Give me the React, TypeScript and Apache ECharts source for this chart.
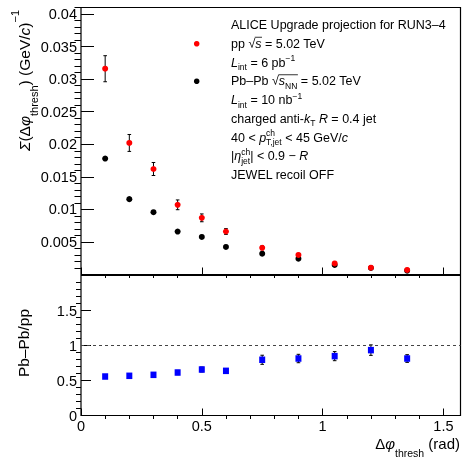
import { useEffect, useRef } from "react";
import * as echarts from "echarts";

// ---- data ----
const xValues = [0.1, 0.2, 0.3, 0.4, 0.5, 0.6, 0.75, 0.9, 1.05, 1.2, 1.35];
const ppValues = [0.0316, 0.0202, 0.0162, 0.0107, 0.0087, 0.0066, 0.0041, 0.003, 0.0017, 0.00105, 0.0007];
const ppErrors = [0.002, 0.0013, 0.001, 0.00075, 0.0006, 0.00045, 0.0003, 0.00022, 0.00015, 0.0001, 0.00008];
const pbpbValues = [0.0178, 0.01157, 0.00957, 0.00659, 0.00577, 0.00423, 0.0032, 0.00243, 0.00146, 0.001, 0.00058];
const pbpbErrors = [0.0002, 0.00015, 0.00012, 0.0001, 0.0001, 0.00008, 0.00006, 0.00005, 0.00004, 0.00003, 0.00002];
const ratioValues = [0.557, 0.567, 0.581, 0.614, 0.657, 0.638, 0.796, 0.814, 0.848, 0.934, 0.814];
const ratioErrors = [0.025, 0.025, 0.025, 0.03, 0.035, 0.03, 0.065, 0.06, 0.065, 0.075, 0.055];

// ---- axis ticks ----
const X_MAX = Math.PI / 2;
const TOP_Y_MAX = 0.041;
const RATIO_Y_MAX = 2;
const xMajorTicks = [0, 0.5, 1, 1.5];
const xLabels = [0, 0.5, 1, 1.5];
const xMinorTicks = [0.1, 0.2, 0.3, 0.4, 0.6, 0.7, 0.8, 0.9, 1.1, 1.2, 1.3, 1.4];
const topYMajorTicks = [0, 0.005, 0.01, 0.015, 0.02, 0.025, 0.03, 0.035, 0.04];
const topYLabels = [0.005, 0.01, 0.015, 0.02, 0.025, 0.03, 0.035, 0.04];
const topYMinorTicks: number[] = [];
for (let i = 1; i <= 41; i++) if (i % 5 !== 0) topYMinorTicks.push(i / 1000);
const ratioYMajorTicks = [0, 0.5, 1, 1.5, 2];
const ratioYLabels = [0, 0.5, 1, 1.5];
const ratioYMinorTicks: number[] = [];
for (let i = 1; i < 20; i++) if (i % 5 !== 0) ratioYMinorTicks.push(i / 10);

const FONT = "'Liberation Sans', Arial, Helvetica, sans-serif";

function measure(text: string, font: string): number {
  const c = document.createElement("canvas").getContext("2d")!;
  c.font = font;
  return c.measureText(text).width;
}

function errorBars(xi: number, yi: number, vals: number[], errs: number[], color: string) {
  return {
    type: "custom",
    xAxisIndex: xi,
    yAxisIndex: yi,
    silent: true,
    z: 2,
    encode: { x: 0, y: [1, 2] },
    data: xValues.map((x, i) => [x, vals[i] - errs[i], vals[i] + errs[i]]),
    renderItem: (_p: any, api: any) => {
      const x = api.value(0);
      const lo = api.coord([x, api.value(1)]);
      const hi = api.coord([x, api.value(2)]);
      const hw = 1.8;
      const st = { stroke: color, lineWidth: 1 };
      return {
        type: "group",
        children: [
          { type: "line", shape: { x1: lo[0], y1: lo[1], x2: hi[0], y2: hi[1] }, style: st },
          { type: "line", shape: { x1: lo[0] - hw, y1: lo[1], x2: lo[0] + hw, y2: lo[1] }, style: st },
          { type: "line", shape: { x1: hi[0] - hw, y1: hi[1], x2: hi[0] + hw, y2: hi[1] }, style: st },
        ],
      };
    },
  };
}

function valueAxis(gridIndex: number, min: number, max: number, ticks: number[], labels: number[] | null, len: number, margin = 4) {
  return {
    type: "value",
    gridIndex,
    min,
    max,
    axisLine: { show: false },
    splitLine: { show: false },
    axisTick: { show: true, inside: true, length: len, customValues: ticks, lineStyle: { color: "#000", width: 1 } },
    axisLabel: labels
      ? {
          show: true,
          customValues: labels,
          color: "#000",
          fontFamily: FONT,
          fontSize: 14.5,
          margin,
        }
      : { show: false },
  };
}

export default function App() {
  const ref = useRef<HTMLDivElement>(null);
  useEffect(() => {
    document.body.style.margin = "0";
    const chart = echarts.init(ref.current!, null, { renderer: "svg" });

    const legFs = 12.5;
    const subFs = 8.5;
    const legRich = {
      n: { fontSize: legFs, fontFamily: FONT, fill: "#000", color: "#000", lineHeight: 18 },
      i: { fontSize: legFs, fontFamily: FONT, fontStyle: "italic", fill: "#000", color: "#000", lineHeight: 18 },
      sub: { fontSize: subFs, fontFamily: FONT, fill: "#000", color: "#000", lineHeight: 10, verticalAlign: "bottom" },
      sup: { fontSize: subFs, fontFamily: FONT, fill: "#000", color: "#000", lineHeight: 9, verticalAlign: "top" },
      supz: { fontSize: subFs, fontFamily: FONT, fill: "#000", color: "#000", lineHeight: 10, verticalAlign: "top", width: 0.01 },
    };
    const legX = 231;
    const legLines = [
      "{n|ALICE Upgrade projection for RUN3–4}",
      "{n|pp √}{i|s}{n| = 5.02 TeV}",
      "{i|L}{sub|int}{n| = 6 pb}{sup|−1}",
      "{n|Pb–Pb √}{i|s}{sub|NN}{n| = 5.02 TeV}",
      "{i|L}{sub|int}{n| = 10 nb}{sup|−1}",
      "{n|charged anti-}{i|k}{sub|T}{n| }{i|R}{n| = 0.4 jet}",
      "{n|40 < }{i|p}{supz|ch}{sub|T,jet}{n| < 45 GeV/}{i|c}",
      "{n||}{i|η}{supz|ch}{sub|jet}{n|| < 0.9 − }{i|R}",
      "{n|JEWEL recoil OFF}",
    ];
    const legY = (k: number) => 25 + 18.75 * k;
    const nFont = `${legFs}px ${FONT}`;
    const iFont = `italic ${legFs}px ${FONT}`;
    const sFont = `${subFs}px ${FONT}`;
    const ov1x = legX + measure("pp √", nFont);
    const ov1w = measure("s", iFont);
    const ov2x = legX + measure("Pb–Pb √", nFont);
    const ov2w = measure("s", iFont) + measure("NN", sFont);

    const graphics: any[] = legLines.map((t, k) => ({
      type: "text",
      x: legX,
      y: legY(k),
      silent: true,
      style: { text: t, rich: legRich, textAlign: "left", textVerticalAlign: "middle", verticalAlign: "middle" },
    }));
    graphics.push(
      { type: "line", silent: true, shape: { x1: ov1x - 0.5, y1: legY(1) - 6.5, x2: ov1x + ov1w + 0.5, y2: legY(1) - 6.5 }, style: { stroke: "#000", lineWidth: 0.8 } },
      { type: "line", silent: true, shape: { x1: ov2x - 0.5, y1: legY(3) - 6.5, x2: ov2x + ov2w + 0.5, y2: legY(3) - 6.5 }, style: { stroke: "#000", lineWidth: 0.8 } },
      { type: "circle", silent: true, shape: { cx: 196.7, cy: legY(1), r: 2.8 }, style: { fill: "#ff0000" } },
      { type: "circle", silent: true, shape: { cx: 196.7, cy: legY(3), r: 2.8 }, style: { fill: "#000" } }
    );

    const tFs = 15.5;
    const tSub = 11;
    const mkTitleRich = (lh: number, fs = tFs) => ({
      n: { fontSize: fs, fontFamily: FONT, fill: "#000", color: "#000", lineHeight: lh },
      i: { fontSize: fs, fontFamily: FONT, fontStyle: "italic", fill: "#000", color: "#000", lineHeight: lh },
      sub: { fontSize: tSub, fontFamily: FONT, fill: "#000", color: "#000", lineHeight: 12, verticalAlign: "bottom" },
      sup: { fontSize: tSub, fontFamily: FONT, fill: "#000", color: "#000", lineHeight: 12, verticalAlign: "top" },
    });

    // x-axis title built from pieces, right-aligned at the frame's right edge
    const xFs = 15;
    const xSub = 10.5;
    const xtRight = 460;
    const xtY = 443;
    const wRad = measure(" (rad)", `${xFs}px ${FONT}`);
    const wThresh = measure("thresh", `${xSub}px ${FONT}`);
    const xtPiece = (text: string, x: number, y: number, rich: string) => ({
      type: "text",
      x,
      y,
      silent: true,
      style: {
        text: `{${rich}|${text}}`,
        rich: mkTitleRich(xFs, xFs),
        textAlign: "right",
        textVerticalAlign: "middle",
        verticalAlign: "middle",
      },
    });

    graphics.push(
      {
        type: "text",
        x: 24,
        y: 10,
        rotation: Math.PI / 2,
        silent: true,
        style: {
          text: "{i|Σ}{n|(Δ}{i|φ}{sub|thresh}{n|) (GeV/}{i|c}{n|)}{sup|−1}",
          rich: mkTitleRich(30),
          textAlign: "right",
          textVerticalAlign: "middle",
          verticalAlign: "middle",
        },
      },
      {
        type: "text",
        x: 23,
        y: 343,
        rotation: Math.PI / 2,
        silent: true,
        style: { text: "{n|Pb–Pb/pp}", rich: mkTitleRich(22), textAlign: "center", textVerticalAlign: "middle", verticalAlign: "middle" },
      },
      {
        type: "text",
        x: xtRight,
        y: xtY,
        silent: true,
        style: { text: " (rad)", fontSize: xFs, lineHeight: xFs, fontFamily: FONT, fill: "#000", textAlign: "right", textVerticalAlign: "middle", verticalAlign: "middle" },
      },
      {
        type: "text",
        x: xtRight - wRad,
        y: xtY + 9.5,
        silent: true,
        style: { text: "thresh", fontSize: xSub, lineHeight: xSub, fontFamily: FONT, fill: "#000", textAlign: "right", textVerticalAlign: "middle", verticalAlign: "middle" },
      },
      xtPiece("φ", xtRight - wRad - wThresh, xtY, "i"),
      xtPiece("Δ", xtRight - wRad - wThresh - measure("φ", `italic ${xFs}px ${FONT}`), xtY, "n")
    );

    const option: any = {
      animation: false,
      grid: [
        { left: 81, top: 7.5, width: 379.5, height: 267, show: true, borderColor: "#000", borderWidth: 1.2, backgroundColor: "transparent" },
        { left: 81, top: 275.5, width: 379.5, height: 140, show: true, borderColor: "#000", borderWidth: 1.2, backgroundColor: "transparent" },
      ],
      xAxis: [
        valueAxis(0, 0, X_MAX, xMajorTicks, null, 7),
        valueAxis(0, 0, X_MAX, xMinorTicks, null, 3.5),
        valueAxis(1, 0, X_MAX, xMajorTicks, xLabels, 7, 3),
        valueAxis(1, 0, X_MAX, xMinorTicks, null, 3.5),
      ],
      yAxis: [
        valueAxis(0, 0, TOP_Y_MAX, topYMajorTicks, topYLabels, 13),
        valueAxis(0, 0, TOP_Y_MAX, topYMinorTicks, null, 6.5),
        valueAxis(1, 0, RATIO_Y_MAX, ratioYMajorTicks, ratioYLabels, 10),
        valueAxis(1, 0, RATIO_Y_MAX, ratioYMinorTicks, null, 5),
      ],
      graphic: graphics,
      series: [
        errorBars(0, 0, ppValues, ppErrors, "#000"),
        errorBars(0, 0, pbpbValues, pbpbErrors, "#000"),
        {
          type: "scatter",
          xAxisIndex: 0,
          yAxisIndex: 0,
          symbol: "circle",
          symbolSize: 6,
          z: 3,
          itemStyle: { color: "#000", opacity: 1 },
          data: xValues.map((x, i) => [x, pbpbValues[i]]),
        },
        {
          type: "scatter",
          xAxisIndex: 0,
          yAxisIndex: 0,
          symbol: "circle",
          symbolSize: 6,
          z: 4,
          itemStyle: { color: "#ff0000", opacity: 1 },
          data: xValues.map((x, i) => [x, ppValues[i]]),
        },
        errorBars(2, 2, ratioValues, ratioErrors, "#000"),
        {
          type: "scatter",
          xAxisIndex: 2,
          yAxisIndex: 2,
          symbol: "rect",
          symbolSize: [6, 6.5],
          z: 3,
          itemStyle: { color: "#0000ff", opacity: 1 },
          data: xValues.map((x, i) => [x, ratioValues[i]]),
          markLine: {
            silent: true,
            symbol: "none",
            label: { show: false },
            lineStyle: { type: [3, 3], color: "#444", width: 1 },
            data: [{ yAxis: 1 }],
          },
        },
      ],
    };
    chart.setOption(option);
    return () => chart.dispose();
  }, []);
  return <div ref={ref} style={{ position: "fixed", left: 0, top: 0, width: 462, height: 458 }} />;
}
